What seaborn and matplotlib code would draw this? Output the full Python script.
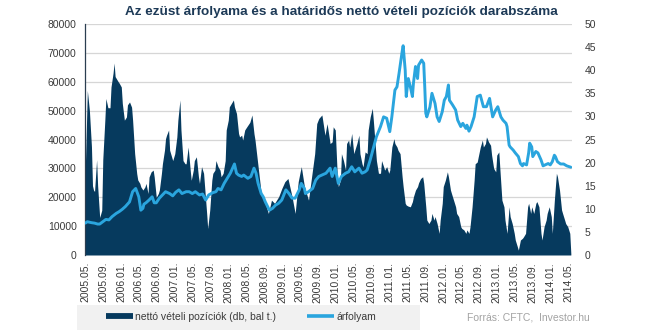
import numpy as np
import pandas as pd
import matplotlib
matplotlib.use("Agg")
import matplotlib.pyplot as plt
from matplotlib.lines import Line2D
from matplotlib.patches import Rectangle
import seaborn as sns

# ---------------- data ----------------
start_date = "2005-05-03"          # first weekly CFTC observation (Tuesday)

# net long positions (contracts), weekly index since start_date
pos_week = [0, 2, 4, 6, 7, 8, 9, 11, 12, 14, 16, 17, 19, 20, 22, 24, 25, 27, 28, 29,
            30, 32, 33, 35, 36, 38, 40, 41, 43, 45, 46, 48, 50, 51, 53, 54, 56, 58, 59, 61,
            62, 64, 66, 67, 69, 71, 72, 74, 75, 77,
            78, 79, 81, 82, 84, 85, 87, 89, 90, 92, 93, 95, 97, 98, 100, 102, 103, 105, 106, 108,
            110, 111, 113, 115, 116, 118, 119, 121, 123, 124, 126, 127, 129, 131, 132, 134, 136, 137, 139, 140,
            142, 144, 145, 147, 149, 150, 152, 153, 155, 157,
            160, 162, 164, 165, 168, 171, 175, 178, 181, 184, 188, 191, 194, 197, 201, 204, 207, 209, 210, 213,
            217, 220, 223, 225, 227, 230, 233,
            235, 236, 238, 240, 241, 243, 245, 246, 248, 249, 251, 253, 254, 256, 257, 259, 261, 262, 264, 266,
            267, 269, 270, 272, 274, 275, 277, 279, 280, 282, 283, 285, 287, 288, 290, 291, 293, 295, 296, 298,
            300, 301, 303, 304, 306, 308, 309, 311, 312, 314,
            316, 318, 319, 321, 323, 324, 326, 328, 329, 331, 332, 334, 336, 337, 339, 340, 342, 344, 345, 347,
            348, 350, 352, 353, 355, 356, 358, 360, 361, 363, 365, 366, 368, 370, 371, 373, 374, 376, 378, 379,
            381, 382, 384, 386, 387, 389, 390, 392, 394,
            395, 397, 399, 400, 402, 403, 405, 407, 408, 410, 412, 413, 415, 417, 418, 420, 421, 423, 425, 426,
            428, 430, 431, 433, 434, 436, 438, 439, 441, 443, 444, 446, 448, 449, 451, 453, 454, 456, 458, 459,
            461, 463, 464, 466, 467, 469, 471, 472]
net_positions = [30000, 57000, 50000, 37500, 24000, 22500, 22000, 33000, 24000, 13000, 15500, 33000, 46700, 54200, 51000, 51000, 58200, 63000, 66500, 61800,
                 61200, 60000, 59500, 58200, 52500, 46700, 47800, 52000, 53000, 51200, 46700, 35100, 28200, 26000, 24800, 23600, 22500, 23600, 24800, 21300,
                 27000, 28800, 29400, 27000, 20000, 21300, 22500, 28200, 31700, 36300,
                 40300, 41500, 43300, 36300, 33900, 32700, 35100, 40900, 46700, 53700, 43300, 32700, 31600, 31600, 37400, 29400, 25900, 29400, 32700, 34000,
                 27100, 24800, 30600, 28300, 23700, 14400, 9200, 15600, 25900, 28300, 29400, 32700, 30600, 29400, 27100, 28300, 32700, 43300, 46700, 51300,
                 52500, 53700, 51300, 49000, 42100, 40900, 41500, 39800, 43300, 44400,
                 46000, 48500, 42000, 39800, 30600, 21300, 17900, 14400, 19000, 17900, 20200, 23000, 25400, 26500, 20200, 14400, 25400, 29000, 30600, 23700,
                 19000, 27100, 35100, 45500, 47300, 48500, 41500,
                 45500, 43300, 38600, 39200, 44400, 43300, 27100, 23700, 25900, 35100, 32700, 29400, 38600, 39800, 37400, 42100, 35100, 36300, 38600, 41500,
                 35100, 31600, 30500, 35700, 35100, 43300, 47900, 50800, 46700, 37400, 32700, 28300, 28300, 32700, 30600, 29400, 30600, 28300, 29400, 37400,
                 40300, 38600, 37400, 36300, 35100, 27100, 23700, 17900, 17300, 16900,
                 16700, 18500, 20200, 22500, 23700, 25000, 26500, 27100, 24800, 16700, 12100, 10900, 12100, 14400, 12100, 13300, 10900, 7500, 12100, 17900,
                 23700, 25900, 28800, 27100, 22500, 21300, 19000, 16700, 14400, 13300, 9800, 9200, 8700, 7500, 8700, 7500, 9800, 16700, 25900, 31600,
                 32200, 34000, 37400, 39800, 37400, 38600, 40900, 39200, 38000,
                 34600, 30000, 28800, 34600, 35700, 30000, 19000, 16700, 12100, 7500, 16700, 13300, 10900, 7500, 5200, 2900, 1700, 5200, 5800, 6300,
                 7500, 16700, 17900, 14400, 16700, 14400, 17900, 18500, 16700, 7500, 5200, 9800, 12100, 14400, 16700, 13300, 7500, 19000, 28300, 27100,
                 22500, 15600, 14400, 12100, 10900, 9800, 7500, 600]

# silver price (USD/oz), weekly index since start_date
price_week = [0, 2, 6, 9, 12, 14, 17, 20, 23, 26, 30, 33, 36, 39, 43, 46, 49, 52, 54, 56,
              57, 59, 62, 65, 67, 69, 72, 75, 78, 82, 85, 88, 91, 94, 98, 101, 104, 107, 111, 114,
              117, 120, 124, 127, 129, 132, 135, 138, 141, 145, 147, 149, 152, 154, 158, 161, 164, 166, 168, 171,
              173, 175, 179, 182, 185, 188, 191, 195, 198, 201, 204, 208, 210, 213, 214, 217, 221, 224, 227, 230,
              234, 238, 240, 243, 246, 249, 253, 256, 259, 262, 266, 269, 272, 274, 277, 280, 283, 287, 290, 293,
              296, 298, 301, 303, 305, 308, 309, 311, 312, 314, 316, 318, 319, 321, 323, 324, 327, 329, 330, 331,
              332, 335, 337, 340, 342, 344, 347, 349, 351, 353, 354, 357, 360, 362, 365, 367, 370, 371, 373, 375,
              378, 381, 384, 387, 390, 393, 396, 399, 401, 404, 406, 409, 410, 412, 413, 416, 418, 421, 423, 425,
              426, 429, 431, 432, 434, 435, 438, 440, 443, 445, 447, 450, 452, 454, 456, 457, 459, 462, 465, 468, 472]
silver_price = [6.9, 7.2, 7.0, 6.9, 6.7, 6.7, 7.2, 7.7, 7.6, 8.3, 9.0, 9.4, 9.9, 10.5, 11.5, 13.7, 14.4, 12.6, 9.7, 10.1,
                11.0, 11.3, 11.9, 12.6, 11.3, 11.3, 12.3, 13.0, 13.7, 13.3, 12.8, 13.6, 14.1, 13.3, 13.7, 13.7, 13.3, 13.7, 13.0, 13.2,
                11.9, 13.0, 13.5, 13.7, 14.4, 14.1, 15.5, 16.6, 17.7, 19.7, 17.7, 17.3, 17.0, 17.3, 16.6, 17.0, 18.8, 17.7, 15.5, 13.3,
                12.6, 11.5, 9.7, 10.1, 10.8, 11.2, 11.9, 14.1, 13.3, 12.3, 12.3, 14.1, 15.5, 14.4, 13.3, 13.7, 14.4, 16.2, 17.0, 17.3,
                17.7, 18.8, 17.0, 18.8, 15.5, 17.0, 17.7, 18.0, 19.1, 18.0, 18.8, 17.7, 18.0, 18.4, 20.6, 23.1, 25.6, 27.8, 29.9, 29.6,
                26.7, 29.9, 35.7, 36.4, 39.3, 44.0, 45.3, 40.0, 34.3, 38.2, 36.4, 34.3, 37.2, 40.8, 38.2, 41.1, 42.2, 41.5, 36.4, 30.7,
                29.9, 32.0, 35.0, 32.8, 29.9, 28.9, 31.0, 33.5, 34.3, 36.8, 33.5, 32.5, 31.4, 29.2, 27.8, 28.5, 27.4, 28.1, 26.8, 27.8,
                29.9, 34.3, 34.6, 32.1, 32.1, 33.9, 29.9, 31.4, 32.1, 29.9, 29.2, 28.5, 27.8, 23.8, 23.4, 22.7, 22.1, 21.3, 19.8, 19.3,
                19.8, 19.5, 22.1, 24.2, 23.4, 21.3, 22.4, 22.1, 20.6, 19.3, 19.5, 19.8, 19.5, 20.2, 21.6, 21.3, 20.2, 19.7, 19.7, 19.3, 19.0]

tick_labels = ["2005.05.", "2005.09.", "2006.01.", "2006.05.", "2006.09.", "2007.01.", "2007.05.",
               "2007.09.", "2008.01.", "2008.05.", "2008.09.", "2009.01.", "2009.05.", "2009.09.",
               "2010.01.", "2010.05.", "2010.09.", "2011.01.", "2011.05.", "2011.09.", "2012.01.",
               "2012.05.", "2012.09.", "2013.01.", "2013.05.", "2013.09.", "2014.01.", "2014.05."]
left_ticks = [0, 10000, 20000, 30000, 40000, 50000, 60000, 70000, 80000]
right_ticks = [0, 5, 10, 15, 20, 25, 30, 35, 40, 45, 50]

title = "Az ezüst árfolyama és a határidős nettó vételi pozíciók darabszáma"
label_pos = "nettó vételi pozíciók (db, bal t.)"
label_price = "árfolyam"
source = "Forrás: CFTC,  Investor.hu"

# ---------------- styling ----------------
NAVY = "#063a5e"
BLUE = "#2aa5de"
TEXT = "#3a3a3a"

sns.set_theme(style="white")
plt.rcParams["font.family"] = ["Liberation Sans", "DejaVu Sans"]

t0 = pd.Timestamp(start_date)
pos_df = pd.DataFrame({"date": t0 + pd.to_timedelta(np.array(pos_week) * 7, unit="D"),
                       "value": net_positions})
price_df = pd.DataFrame({"date": t0 + pd.to_timedelta(np.array(price_week) * 7, unit="D"),
                         "value": silver_price})

W, H = 645, 332
fig = plt.figure(figsize=(W / 100, H / 100), dpi=100)
ax = fig.add_axes([85 / W, 1 - 255 / H, (572 - 85) / W, (255 - 24) / H])

ax.fill_between(pos_df["date"], 0, pos_df["value"], color=NAVY, linewidth=0, zorder=2)
ax.set_ylim(0, 80000)
ax.set_yticks(left_ticks)
ax.set_yticklabels([str(v) for v in left_ticks])
ax.yaxis.grid(True, color="#d6d6d6", linewidth=0.9, zorder=0)
ax.xaxis.grid(False)
ax.set_axisbelow(True)
for s in ["top", "right", "bottom"]:
    ax.spines[s].set_visible(False)
ax.spines["left"].set_color("#2b3e50")
ax.spines["left"].set_linewidth(0.9)

ax2 = ax.twinx()
sns.lineplot(data=price_df, x="date", y="value", ax=ax2, color=BLUE, linewidth=2.1, zorder=3)
ax2.set_ylim(0, 50)
ax2.set_yticks(right_ticks)
ax2.set_yticklabels([str(v) for v in right_ticks])
ax2.set_ylabel("")
ax2.set_xlabel("")
ax.set_xlabel("")
ax.set_ylabel("")
for s in ["top", "right", "left", "bottom"]:
    ax2.spines[s].set_visible(False)
ax2.grid(False)

tick_dates = pd.to_datetime(tick_labels, format="%Y.%m.")
xlim = (pd.Timestamp("2005-05-02"), pd.Timestamp("2014-05-28"))
ax.set_xlim(*xlim)
ax2.set_xlim(*xlim)
ax.set_xticks(tick_dates)
ax.set_xticklabels(tick_labels, rotation=90)
ax2.set_xticks(tick_dates)
ax2.tick_params(axis="x", which="both", length=0, labelbottom=False)

FS = 7.5
ax.tick_params(axis="x", length=0, pad=5, labelsize=FS, labelcolor=TEXT)
ax.tick_params(axis="y", length=0, pad=6, labelsize=FS, labelcolor=TEXT)
ax2.tick_params(axis="y", length=0, pad=9, labelsize=FS, labelcolor=TEXT)

fig.text(341 / W, 1 - 12 / H, title, ha="center", va="center", fontsize=9.7,
         fontweight="bold", color="#1d3a57")

# legend band
fig.patches.append(Rectangle((77 / W, 2 / H), (420 - 77) / W, 25 / H,
                             transform=fig.transFigure, facecolor="#f1f1f1",
                             edgecolor="none", zorder=0))
handles = [Line2D([], [], color=NAVY, linewidth=4.2, solid_capstyle="butt"),
           Line2D([], [], color=BLUE, linewidth=2.6, solid_capstyle="butt")]
fig.legend(handles, [label_pos, label_price], loc="center left",
           bbox_to_anchor=(106 / W, 15 / H), ncol=2, frameon=False,
           fontsize=FS, handlelength=2.6, handletextpad=0.2, columnspacing=3.0,
           borderpad=0, borderaxespad=0, labelcolor=TEXT)

fig.text(590 / W, 15 / H, source, ha="right", va="center", fontsize=FS, color="#a3a3a3")

fig.savefig("out.png", dpi=100)
